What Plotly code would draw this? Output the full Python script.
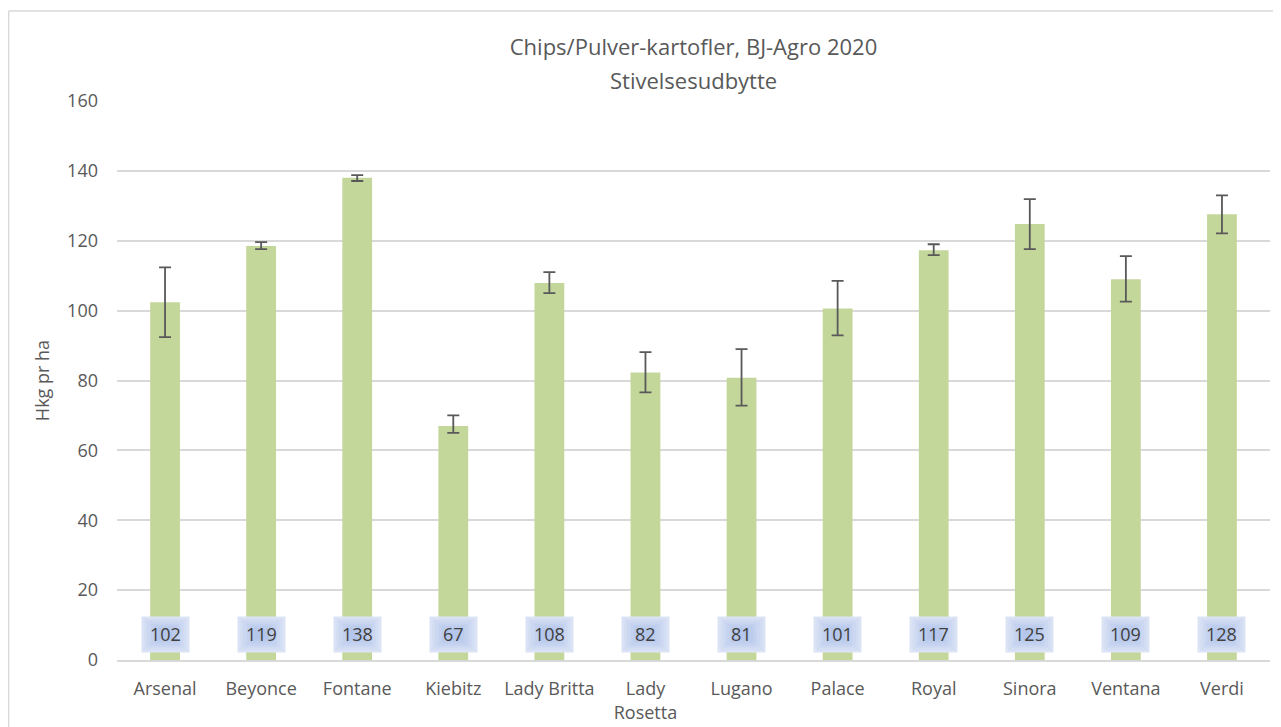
import plotly.graph_objects as go

categories = ["Arsenal", "Beyonce", "Fontane", "Kiebitz", "Lady Britta", "Lady<br>Rosetta",
              "Lugano", "Palace", "Royal", "Sinora", "Ventana", "Verdi"]
values = [102.4, 118.5, 138.0, 67.0, 107.9, 82.3, 80.8, 100.6, 117.3, 124.8, 109.0, 127.6]
err_plus = [10.0, 1.1, 0.8, 3.0, 3.1, 5.8, 8.2, 7.9, 1.7, 7.1, 6.6, 5.4]
err_minus = [10.0, 0.9, 0.9, 2.0, 2.9, 5.7, 8.0, 7.7, 1.4, 7.2, 6.4, 5.5]
labels = ["102", "119", "138", "67", "108", "82", "81", "101", "117", "125", "109", "128"]
label_y = 7.4
title_line1 = "Chips/Pulver-kartofler, BJ-Agro 2020"
title_line2 = "Stivelsesudbytte"

font_family = "Open Sans, sans-serif"

fig = go.Figure()
fig.add_trace(go.Bar(
    x=categories, y=values,
    marker=dict(color="#c4d79b", line=dict(width=0)),
    width=0.31,
    error_y=dict(type="data", symmetric=False, array=err_plus, arrayminus=err_minus,
                 color="#595959", thickness=1.8, width=6),
    hoverinfo="x+y",
))

# soft radial-like gradient boxes behind the data labels
layers = [(47, 35, "#dbe3f5"), (42, 31, "#d4def3"), (36, 26, "#ccd8f1"),
          (29, 21, "#c4d2ef"), (22, 16, "#bccced"), (14, 10, "#b4c6eb")]
for c, t in zip(categories, labels):
    for w, h, col in layers:
        fig.add_annotation(x=c, y=label_y, text=" ", showarrow=False, bgcolor=col,
                           width=w, height=h, borderpad=0, font=dict(size=4))
    fig.add_annotation(x=c, y=label_y, text=t, showarrow=False,
                       font=dict(size=18, color="#404040", family=font_family))

fig.add_annotation(x=0.5, xref="paper", y=1.0376, yref="paper", text=title_line2,
                   showarrow=False, xanchor="center", yanchor="middle",
                   font=dict(size=22, color="#595959", family=font_family))

fig.add_shape(type="line", xref="paper", yref="paper", x0=-0.094, x1=1.05, y0=1.161, y1=1.161,
              line=dict(color="#d9d9d9", width=1.5))
fig.add_shape(type="line", xref="paper", yref="paper", x0=-0.094, x1=-0.094, y0=-0.2, y1=1.161,
              line=dict(color="#d9d9d9", width=1.5))

fig.update_layout(
    width=1273, height=719,
    paper_bgcolor="white", plot_bgcolor="white",
    margin=dict(l=109, r=11, t=93, b=67, autoexpand=False),
    showlegend=False,
    title=dict(text=title_line1, x=0.5, xref="paper", xanchor="center",
               yref="container", y=0.9458, yanchor="middle",
               font=dict(size=22, color="#595959", family=font_family)),
    font=dict(family=font_family, color="#595959"),
)
fig.update_xaxes(showgrid=False, showline=True, linecolor="#d9d9d9", linewidth=1.5,
                 automargin=False,
                 ticks="", ticklabelstandoff=12, tickfont=dict(size=18, color="#595959"))
fig.update_yaxes(range=[0, 160], dtick=20, showgrid=True, gridcolor="#d9d9d9", gridwidth=1.5,
                 automargin=False,
                 zeroline=False, showline=False, ticks="", ticklabelstandoff=18,
                 tickfont=dict(size=18, color="#595959"),
                 title=dict(text="Hkg pr ha", font=dict(size=18, color="#595959"), standoff=12))

fig.write_html("out.html")
